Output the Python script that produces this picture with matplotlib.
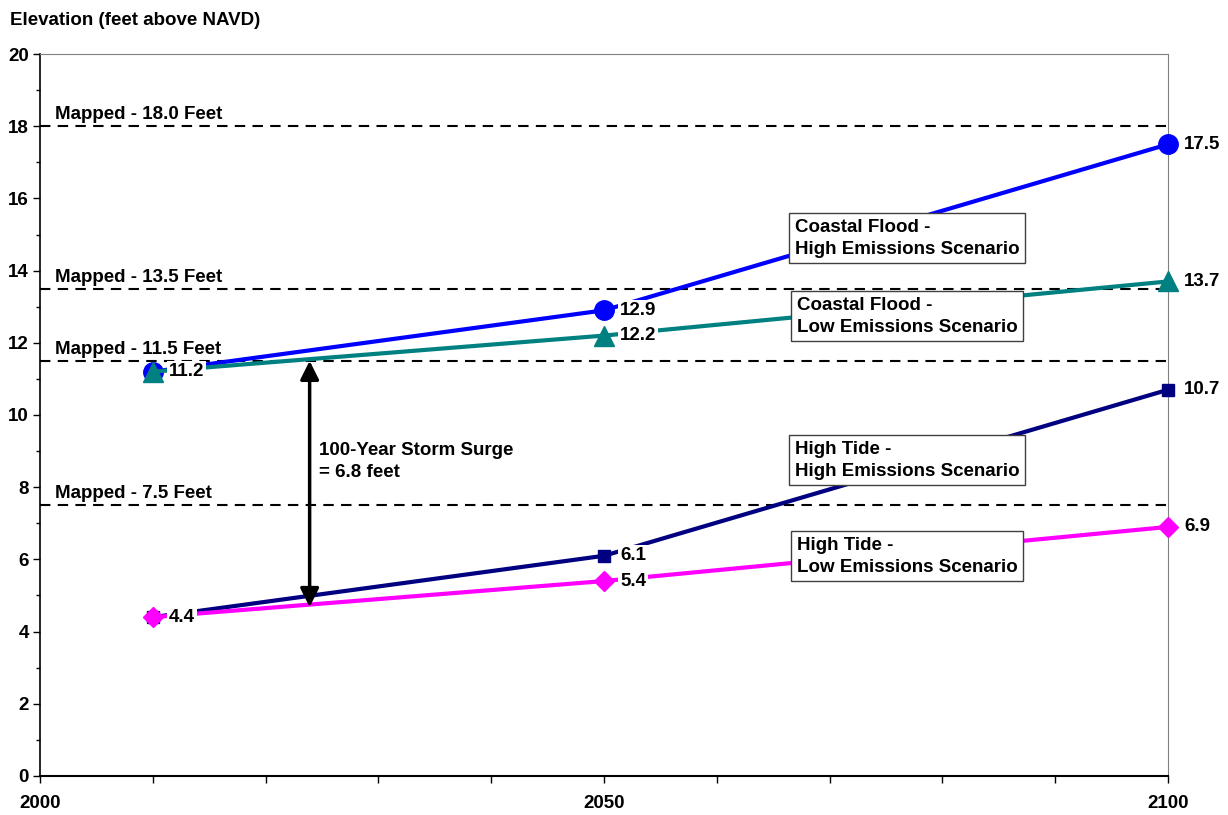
import matplotlib.pyplot as plt
from matplotlib.ticker import MultipleLocator, FixedLocator

plt.rcParams['font.family'] = ['Liberation Sans', 'DejaVu Sans']
plt.rcParams['font.weight'] = 'bold'

years = [2010, 2050, 2100]
cf_high = [11.2, 12.9, 17.5]
cf_low = [11.2, 12.2, 13.7]
ht_high = [4.4, 6.1, 10.7]
ht_low = [4.4, 5.4, 6.9]

mapped = [18.0, 13.5, 11.5, 7.5]
mapped_labels = ['Mapped - 18.0 Feet', 'Mapped - 13.5 Feet', 'Mapped - 11.5 Feet', 'Mapped - 7.5 Feet']

series_names = ['Coastal Flood -\nHigh Emissions Scenario', 'Coastal Flood -\nLow Emissions Scenario',
                'High Tide -\nHigh Emissions Scenario', 'High Tide -\nLow Emissions Scenario']
name_pos = [(2066.9, 15.44), (2067.1, 13.28), (2066.9, 9.29), (2067.1, 6.63)]

surge_year = 2023.9
surge_top = 11.5
surge_bottom = 4.68

FS = 13.5

fig = plt.figure(figsize=(12.28, 8.15), dpi=100)
ax = fig.add_axes([0.0326, 0.0479, 0.9186, 0.8858])

# mapped levels
for m, lab in zip(mapped, mapped_labels):
    ax.plot([2000, 2100], [m, m], color='black', lw=1.5, ls=(0, (5, 3.5)), zorder=2)
    ax.text(2001.3, m + 0.08, lab, fontsize=FS, fontweight='bold', va='bottom', ha='left')

# series
ax.plot(years, cf_high, color='#0000FF', lw=3, marker='o', ms=14, zorder=3, clip_on=False)
ax.plot(years, cf_low, color='#008080', lw=3, marker='^', ms=14, zorder=3, clip_on=False)
ax.plot(years, ht_high, color='#000080', lw=3, marker='s', ms=8, zorder=3, clip_on=False)
ax.plot(years, ht_low, color='#FF00FF', lw=3, marker='D', ms=10, zorder=3, clip_on=False)

lbl_box = dict(facecolor='white', edgecolor='none', pad=1.5)
def label(x, y):
    ax.annotate('%.1f' % y, (x, y), xytext=(11.5, 0), textcoords='offset points',
                va='center', ha='left', fontsize=FS, fontweight='bold', bbox=lbl_box, zorder=4)

label(years[0], cf_low[0])
label(years[0], ht_low[0])
for i in (1, 2):
    label(years[i], cf_high[i])
    label(years[i], cf_low[i])
    label(years[i], ht_high[i])
    label(years[i], ht_low[i])

# series name boxes
for name, (x, y) in zip(series_names, name_pos):
    ax.text(x, y, name, fontsize=FS, fontweight='bold', va='top', ha='left', linespacing=1.4,
            bbox=dict(facecolor='white', edgecolor='#404040', lw=1, pad=4), zorder=5)

# storm surge arrow
ax.annotate('', xy=(surge_year, surge_top), xytext=(surge_year, surge_bottom),
            arrowprops=dict(arrowstyle='<|-|>', color='black', lw=2.5, mutation_scale=28,
                            shrinkA=0, shrinkB=0), zorder=5)
ax.text(surge_year + 0.8, 8.72, '100-Year Storm Surge\n= 6.8 feet', fontsize=FS, fontweight='bold',
        va='center', ha='left', linespacing=1.4)

ax.text(-0.027, 1.035, 'Elevation (feet above NAVD)', transform=ax.transAxes, fontsize=FS,
        fontweight='bold', va='bottom', ha='left')

ax.set_xlim(2000, 2100)
ax.set_ylim(0, 20)
ax.xaxis.set_major_locator(FixedLocator([2000, 2050, 2100]))
ax.xaxis.set_minor_locator(MultipleLocator(10))
ax.yaxis.set_major_locator(MultipleLocator(2))
ax.yaxis.set_minor_locator(MultipleLocator(1))
ax.tick_params(axis='both', which='both', direction='out', width=1, colors='black', labelsize=FS)
ax.tick_params(axis='y', which='major', length=5, pad=3)
ax.tick_params(axis='y', which='minor', length=3)
ax.tick_params(axis='x', which='both', length=5, pad=9)
for t in ax.get_xticklabels() + ax.get_yticklabels():
    t.set_fontweight('bold')

ax.spines['left'].set_color('black')
ax.spines['bottom'].set_color('black')
ax.spines['left'].set_linewidth(1.2)
ax.spines['bottom'].set_linewidth(1.5)
ax.spines['top'].set_color('#808080')
ax.spines['right'].set_color('#808080')

fig.savefig('out.png', dpi=100)
